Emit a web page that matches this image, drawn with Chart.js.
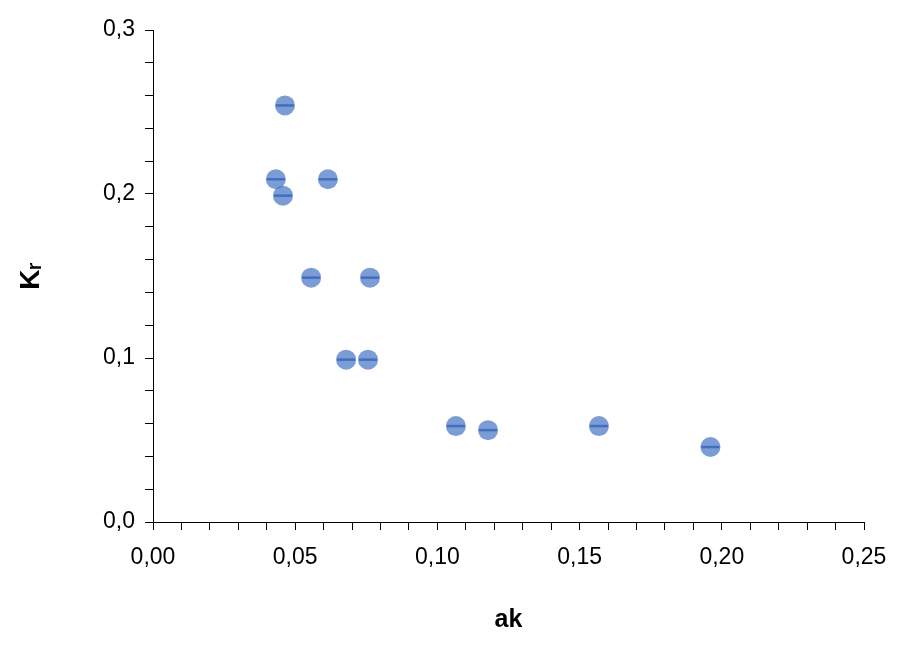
<!doctype html>
<html>
<head>
  <meta charset="utf-8" />
  <title>Kr vs ak</title>
  <style>
    body{margin:0;background:#fff}
    #wrap{width:912px;height:649px}
  </style>
</head>
<body>
  <div id="wrap"><canvas id="c"></canvas></div>
  <script src="https://cdn.jsdelivr.net/npm/chart.js@4.4.1/dist/chart.umd.min.js"></script>
  <script>
    const akValues = [0.0464, 0.0432, 0.0457, 0.0615, 0.0556, 0.0763, 0.0679, 0.0756, 0.1065, 0.1178, 0.1568, 0.196];
    const krValues = [0.254, 0.209, 0.199, 0.209, 0.149, 0.149, 0.099, 0.099, 0.0585, 0.056, 0.0585, 0.0457];
    const xTitle = 'ak';
    const yTitle = 'Kᵣ';

    const pts = akValues.map((x,i)=>({x, y: krValues[i]}));
    const font = {family: 'Liberation Sans, Arial, sans-serif', size: 23};
    const isMult = (v, m) => { const r = Math.round(v*100) % m; return r === 0; };

    new Chart(document.getElementById('c'), {
      type: 'scatter',
      data: {
        datasets: [
          { data: pts, pointRadius: 10, pointHoverRadius: 10, borderWidth: 0,
            backgroundColor: 'rgba(68,114,196,0.7)' },
          { data: pts, pointStyle: 'line', pointRadius: 9, pointHoverRadius: 9,
            borderColor: '#3a64b0', borderWidth: 2.5 }
        ]
      },
      options: {
        responsive: true, maintainAspectRatio: false, animation: false,
        layout: { padding: { top: 30, right: 48, left: 10, bottom: 10 } },
        plugins: { legend: { display: false }, tooltip: { enabled: false } },
        scales: {
          x: {
            type: 'linear', min: 0, max: 0.25,
            afterFit: s => { s.height = 117; },
            border: { color: '#000', width: 1 },
            grid: { drawOnChartArea: false, color: '#000', tickLength: 8 },
            ticks: { stepSize: 0.01, autoSkip: false, maxRotation: 0, minRotation: 0, color: '#000', font, padding: 14,
              callback: v => isMult(v, 5) ? v.toFixed(2).replace('.', ',') : '' },
            title: { display: true, text: xTitle, color: '#000', padding: { top: 12 }, font: {...font, weight: 'bold', size: 25} }
          },
          y: {
            min: 0, max: 0.3,
            afterFit: s => { s.width = 143; },
            border: { color: '#000', width: 1 },
            grid: { drawOnChartArea: false, color: '#000', tickLength: 8 },
            ticks: { stepSize: 0.02, autoSkip: false, color: '#000', font, padding: 10,
              callback: v => isMult(v, 10) ? v.toFixed(1).replace('.', ',') : '' },
            title: { display: true, text: yTitle, color: '#000', font: {...font, weight: 'bold', size: 28} }
          }
        }
      }
    });
  </script>
</body>
</html>
